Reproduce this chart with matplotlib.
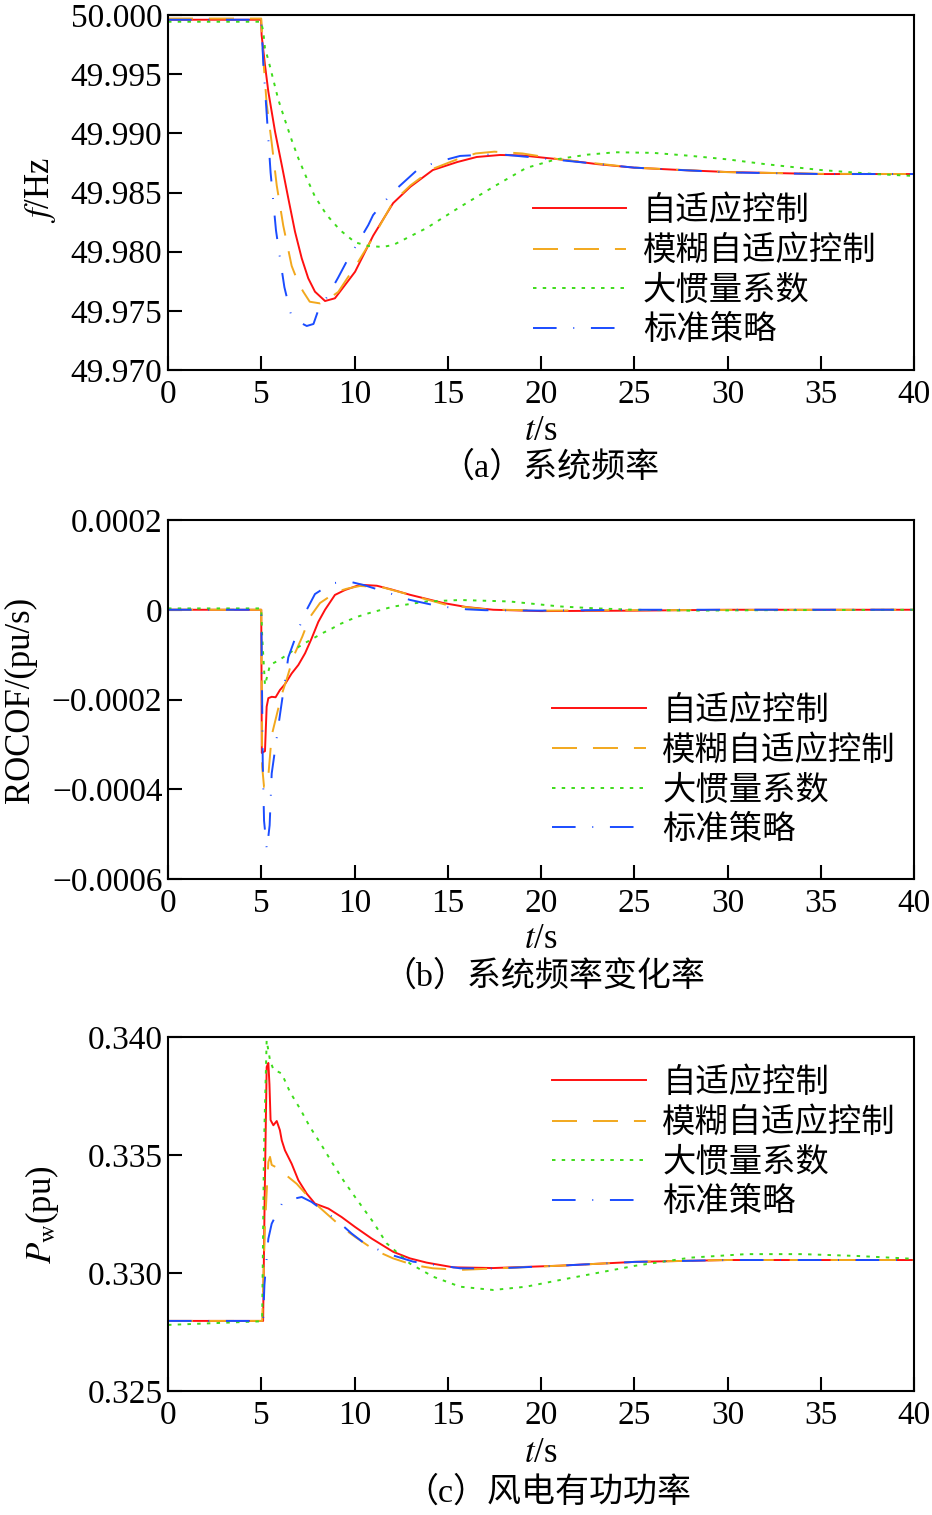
import numpy as np
import matplotlib
matplotlib.use('Agg')
import matplotlib.pyplot as plt

plt.rcParams['font.family'] = ['Liberation Serif', 'Noto Sans CJK SC']
plt.rcParams['mathtext.fontset'] = 'stix'
plt.rcParams['lines.scale_dashes'] = False

W, H = 932, 1515

names = ['自适应控制', '模糊自适应控制', '大惯量系数', '标准策略']
colors = ['#ff1010', '#f2a81d', '#3ddc1a', '#1a4cff']
styles = ['-', (0, (18, 11.5)), (0, (2.5, 4.5)), (0, (17, 12, 0.7, 12))]

# (a) system frequency
t_f_red = [0, 4.99, 5.02, 5.2, 5.38, 5.56, 5.74, 6.1, 6.45, 6.81, 7.17, 7.52, 7.88, 8.42, 8.95,
           10.03, 11.0, 12.07, 13.0, 14.2, 15.5, 16.55, 17.8, 19.0, 21.0, 23.0, 25.0, 27.5, 30.0,
           35.0, 40.0]
f_red = [49.9996, 49.9996, 49.9983, 49.99577, 49.99352, 49.99183, 49.99014, 49.98732, 49.98451,
         49.98169, 49.97944, 49.97775, 49.97662, 49.97583, 49.97606, 49.9783, 49.98135, 49.9841,
         49.98549, 49.9869, 49.98757, 49.9880, 49.98817, 49.98813, 49.9878, 49.9874, 49.9871,
         49.9869, 49.98673, 49.98656, 49.98656]
t_f_org = [0, 5.0, 5.1, 5.29, 5.56, 5.83, 6.18, 6.63, 7.0, 7.26, 7.6, 8.15, 8.6, 9.13, 10.2, 11.0,
           12.07, 13.0, 14.2, 15.5, 16.5, 17.5, 19.0, 21.0, 25.0, 30.0, 35.0, 40.0]
f_org = [49.9997, 49.9997, 49.9965, 49.9925, 49.9892, 49.9856, 49.9822, 49.9788, 49.9773, 49.9766,
         49.97577, 49.97563, 49.9760, 49.9766, 49.97915, 49.9812, 49.9842, 49.9856, 49.9870,
         49.9878, 49.9883, 49.98845, 49.9883, 49.9878, 49.9871, 49.98672, 49.98658, 49.98656]
t_f_grn = [0, 4.99, 5.11, 5.2, 5.38, 5.65, 5.92, 6.27, 6.63, 6.99, 7.44, 7.88, 8.51, 9.22, 10.03,
           10.74, 11.5, 12.07, 13.87, 15.66, 17.44, 19.2, 20.8, 22.5, 24.0, 26.0, 28.0, 30.0, 32.0,
           35.0, 38.0, 40.0]
f_grn = [49.99943, 49.99943, 49.9986, 49.99718, 49.9962, 49.9945, 49.99282, 49.99113, 49.98944,
         49.98789, 49.9862, 49.98465, 49.9831, 49.98183, 49.98079, 49.98048, 49.9804, 49.98056,
         49.9820, 49.98378, 49.98547, 49.98707, 49.9878, 49.9882, 49.9884, 49.98835, 49.9881,
         49.9878, 49.9874, 49.9869, 49.98655, 49.9864]
t_f_blu = [0, 5.0, 5.11, 5.29, 5.5, 5.79, 6.0, 6.24, 6.6, 7.0, 7.44, 7.8, 8.06, 8.6, 9.12, 9.67,
           10.2, 10.74, 11.0, 12.0, 13.5, 14.5, 15.66, 17.0, 18.0, 20.0, 25.0, 30.0, 35.0, 40.0]
f_blu = [49.9996, 49.9996, 49.9959, 49.9917, 49.9867, 49.9818, 49.9795, 49.9770, 49.97465,
         49.97408, 49.97372, 49.97389, 49.97507, 49.97634, 49.9778, 49.97944, 49.9808, 49.98225,
         49.9831, 49.98495, 49.9871, 49.9876, 49.98809, 49.9882, 49.9882, 49.9879, 49.9871,
         49.9867, 49.98656, 49.98656]

# (b) ROCOF, in 1e-4 pu/s
t_r_red = [0, 5.0, 5.03, 5.2, 5.29, 5.38, 5.56, 5.77, 6.0, 6.27, 6.63, 6.99, 7.35, 7.7, 8.06,
           8.42, 8.95, 9.49, 10.3, 11.2, 12.0, 12.97, 14.76, 16.0, 17.44, 20.0, 25.0, 30.0, 40.0]
r_red = [0, 0, -3.19, -3.15, -2.16, -1.97, -1.94, -1.95, -1.79, -1.66, -1.42, -1.23, -0.97, -0.64,
         -0.27, 0, 0.33, 0.44, 0.557, 0.535, 0.45, 0.334, 0.15, 0.06, 0, -0.03, -0.02, 0, 0]
t_r_org = [0, 5.0, 5.05, 5.15, 5.34, 5.56, 6.09, 6.4, 6.72, 7.2, 7.6, 8.15, 9.04, 9.6, 10.3, 11.5,
           13.0, 15.0, 17.0, 20.0, 25.0, 40.0]
r_org = [0, 0, -3.5, -3.95, -3.9, -2.8, -1.9, -1.5, -1.05, -0.6, -0.17, 0.15, 0.40, 0.47, 0.53,
         0.50, 0.33, 0.10, 0.01, -0.02, -0.01, 0]
t_r_grn = [0, 5.0, 5.05, 5.2, 5.47, 5.92, 6.36, 6.81, 7.26, 7.7, 8.24, 8.78, 9.22, 9.71, 10.2,
           10.74, 12.07, 13.87, 15.66, 18.3, 21.0, 23.0, 25.0, 28.0, 32.0, 40.0]
r_grn = [0.03, 0.03, -0.6, -1.68, -1.23, -1.13, -1.01, -0.88, -0.76, -0.66, -0.53, -0.42, -0.32,
         -0.23, -0.15, -0.08, 0.07, 0.185, 0.217, 0.185, 0.074, 0.03, 0.0, -0.02, -0.01, 0]
t_r_blu = [0, 5.0, 5.08, 5.15, 5.3, 5.45, 5.56, 6.0, 6.45, 6.99, 7.35, 7.88, 8.78, 9.7, 10.5, 11.5,
           12.97, 14.5, 16.0, 17.0, 20.0, 25.0, 40.0]
r_blu = [0, 0, -3.4, -4.7, -5.35, -4.8, -3.65, -2.35, -1.06, -0.44, -0.07, 0.35, 0.59, 0.63, 0.55,
         0.42, 0.22, 0.08, 0.01, -0.01, -0.02, 0, 0]

# (c) wind active power
t_p_red = [0, 5.1, 5.18, 5.29, 5.38, 5.44, 5.5, 5.65, 5.83, 6.0, 6.1, 6.27, 6.63, 6.99, 7.44, 7.88,
           8.6, 9.31, 10.03, 10.92, 12.07, 12.97, 13.87, 15.3, 17.44, 21.0, 25.0, 30.0, 40.0]
p_red = [0.32797, 0.32797, 0.3330, 0.33873, 0.3389, 0.3380, 0.33648, 0.33626, 0.33644, 0.33605,
         0.33562, 0.3352, 0.33463, 0.33393, 0.33336, 0.33294, 0.33273, 0.33237, 0.33195, 0.33146,
         0.3309, 0.33062, 0.33044, 0.33024, 0.33021, 0.33031, 0.33047, 0.33055, 0.33055]
t_p_org = [0, 5.05, 5.2, 5.29, 5.38, 5.47, 5.56, 6.1, 6.45, 6.9, 7.7, 8.51, 9.31, 10.03, 11.1,
           12.07, 13.15, 14.2, 15.66, 17.44, 21.0, 25.0, 30.0, 40.0]
p_org = [0.32797, 0.32797, 0.3320, 0.3334, 0.3347, 0.33492, 0.33458, 0.33435, 0.33407, 0.33378,
         0.33308, 0.33251, 0.33195, 0.33153, 0.33096, 0.33062, 0.33034, 0.3302, 0.33013, 0.33019,
         0.33031, 0.33047, 0.33055, 0.33055]
t_p_grn = [0, 4.9, 5.05, 5.15, 5.29, 5.47, 5.65, 6.1, 6.54, 7.08, 7.61, 8.24, 8.78, 9.4, 10.03,
           11.0, 11.72, 12.97, 14.23, 15.66, 17.44, 19.2, 21.0, 25.0, 28.0, 31.0, 34.0, 37.0, 40.0]
p_grn = [0.3278, 0.32795, 0.3281, 0.3355, 0.33986, 0.33901, 0.33863, 0.33845, 0.33767, 0.33696,
         0.33619, 0.33541, 0.3347, 0.33393, 0.33322, 0.33216, 0.33126, 0.3304, 0.32984, 0.32942,
         0.32928, 0.32942, 0.3297, 0.3303, 0.33065, 0.3308, 0.3308, 0.33072, 0.3306]
t_p_blu = [0, 5.1, 5.17, 5.38, 5.56, 5.74, 6.18, 7.17, 7.7, 8.06, 8.95, 9.85, 10.56, 11.72, 13.15,
           15.66, 17.44, 21.0, 25.0, 30.0, 40.0]
p_blu = [0.32797, 0.32797, 0.3295, 0.33145, 0.33209, 0.33237, 0.33305, 0.33322, 0.33301, 0.3328,
         0.3323, 0.33167, 0.33124, 0.33083, 0.33048, 0.3302, 0.33019, 0.33031, 0.33047, 0.33055,
         0.33055]

x_ticks = [0, 5, 10, 15, 20, 25, 30, 35, 40]


def px_text(fig, x, y, s, **kw):
    fig.text(x / W, 1 - y / H, s, ha='center', va='center', **kw)


def make_axes(fig, top, bottom):
    ax = fig.add_axes([168 / W, 1 - bottom / H, (914 - 168) / W, (bottom - top) / H])
    for side in ['top', 'right', 'bottom', 'left']:
        ax.spines[side].set_linewidth(1.5)
    ax.tick_params(direction='in', length=10, width=1.5, labelsize=24, top=False, right=False)
    ax.tick_params(axis='x', pad=7)
    ax.tick_params(axis='y', pad=4)
    ax.set_xlim(0, 40)
    ax.set_xticks(x_ticks)
    ax.set_xticklabels([str(v) for v in x_ticks])
    return ax


def draw(ax, series, anchor):
    for (t, v), c, ls, nm in zip(series, colors, styles, names):
        ax.plot(t, v, color=c, linestyle=ls, linewidth=1.4, label=nm)
    ax.legend(loc='center left', bbox_to_anchor=anchor, frameon=False, fontsize=24,
              handlelength=2.8, handletextpad=0.5, labelspacing=0.25, borderpad=0,
              borderaxespad=0)


fig = plt.figure(figsize=(W / 100, H / 100), dpi=100)

# panel a
ax1 = make_axes(fig, 15, 370)
draw(ax1, [(t_f_red, f_red), (t_f_org, f_org), (t_f_grn, f_grn), (t_f_blu, f_blu)], (0.489, 0.279))
ax1.set_ylim(49.970, 50.000)
a_ticks = [49.970, 49.975, 49.980, 49.985, 49.990, 49.995, 50.000]
ax1.set_yticks(a_ticks)
ax1.set_yticklabels(['%.3f' % v for v in a_ticks])
px_text(fig, 40, 190, '$f$/Hz', fontsize=25, rotation=90)
px_text(fig, 541, 432, '$t$/s', fontsize=25)
px_text(fig, 550, 468, '（a）系统频率', fontsize=24.5)

# panel b
ax2 = make_axes(fig, 520, 879)
draw(ax2, [(t_r_red, np.array(r_red) * 1e-4), (t_r_org, np.array(r_org) * 1e-4),
           (t_r_grn, np.array(r_grn) * 1e-4), (t_r_blu, np.array(r_blu) * 1e-4)], (0.515, 0.302))
ax2.set_ylim(-0.0006, 0.0002)
ax2.set_yticks([-0.0006, -0.0004, -0.0002, 0, 0.0002])
ax2.set_yticklabels(['\u22120.0006', '\u22120.0004', '\u22120.0002', '0', '0.0002'])
px_text(fig, 20, 700, 'ROCOF/(pu/s)', fontsize=25, rotation=90)
px_text(fig, 541, 940, '$t$/s', fontsize=25)
px_text(fig, 544, 977, '（b）系统频率变化率', fontsize=24.5)

# panel c
ax3 = make_axes(fig, 1037, 1391)
draw(ax3, [(t_p_red, p_red), (t_p_org, p_org), (t_p_grn, p_grn), (t_p_blu, p_blu)], (0.515, 0.701))
ax3.set_ylim(0.325, 0.340)
c_ticks = [0.325, 0.330, 0.335, 0.340]
ax3.set_yticks(c_ticks)
ax3.set_yticklabels(['%.3f' % v for v in c_ticks])
px_text(fig, 42, 1215, '$P_\\mathrm{w}$(pu)', fontsize=25, rotation=90)
px_text(fig, 541, 1453, '$t$/s', fontsize=25)
px_text(fig, 548, 1493, '（c）风电有功功率', fontsize=24.5)

fig.savefig('out.png', dpi=100)
